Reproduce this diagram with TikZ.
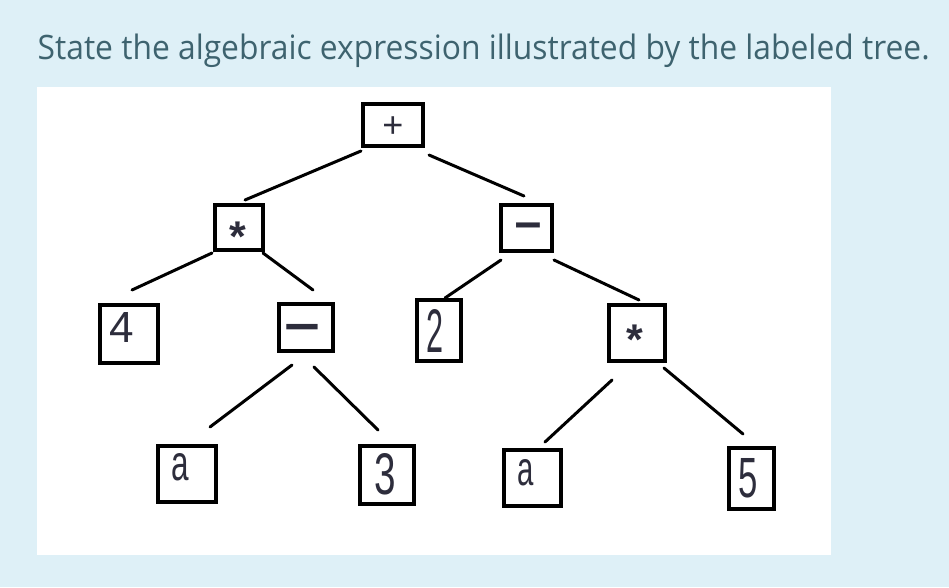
\documentclass[tikz,border=0pt]{standalone}
\usepackage{fontspec}
\usepackage{graphicx}
\usetikzlibrary{calc}
\newfontfamily\titlefont{Open Sans}
\newfontfamily\boxfont{Liberation Sans}
\newfontfamily\minusfont{DejaVu Sans}
\definecolor{bgblue}{RGB}{222,240,247}
\definecolor{titlecol}{RGB}{62,99,111}
\definecolor{glyphcol}{RGB}{45,45,60}
% glyph placed with horizontal shift #1 and raise #2 (zero-size box)
\newcommand\gl[3]{\smash{\makebox[0pt]{\hspace*{#1}\hspace*{#1}\raisebox{#2}{#3}}}}
\newcommand\dg[5]{\gl{#1pt}{\dimexpr #2pt-0.5\dimexpr #4pt\relax\relax}{\resizebox{#3pt}{#4pt}{\boxfont #5}}}
\begin{document}
\begin{tikzpicture}[x=1pt,y=-1pt,
  tbox/.style={draw=black,line width=3.6pt,inner sep=0pt,fill=white,text=glyphcol},
  edge/.style={line width=3pt,line cap=round}]
\fill[bgblue] (0,0) rectangle (949,587);
\useasboundingbox (0,0) rectangle (949,587);
\fill[white] (37,87) rectangle (831,555);
\node[anchor=base west,inner sep=0pt,text=titlecol] (title) at (37.5,59.3)
  {\resizebox{892pt}{\height}{\fontsize{33.6}{40}\titlefont State the algebraic expression illustrated by the labeled tree.}};
% nodes
\node[tbox,minimum width=60pt,minimum height=42pt] (plus) at (393,125)
  {\gl{0pt}{-12.7pt}{\fontsize{36}{36}\boxfont +}};
\node[tbox,minimum width=48pt,minimum height=45pt] (mulL) at (239,227.5)
  {\gl{-1pt}{-24.3pt}{\fontsize{43}{43}\boxfont\bfseries *}};
\node[tbox,minimum width=51pt,minimum height=46pt] (subR) at (526.5,228)
  {\gl{1.5pt}{-16.8pt}{\scalebox{1}[1.6]{\fontsize{38}{38}\minusfont −}}};
\node[tbox,minimum width=58pt,minimum height=58pt] (four) at (129,334)
  {\dg{-7}{7}{24.5}{30}{4}};
\node[tbox,minimum width=54pt,minimum height=47pt] (subM) at (306,327.5)
  {\gl{-3.5pt}{-19.7pt}{\scalebox{1}[1.3]{\fontsize{50}{50}\minusfont −}}};
\node[tbox,minimum width=44pt,minimum height=61pt] (two) at (439,330.5)
  {\dg{-4.5}{0}{17}{43}{2}};
\node[tbox,minimum width=56pt,minimum height=56pt] (mulR) at (637,333)
  {\gl{-2pt}{-21.8pt}{\fontsize{43}{43}\boxfont\bfseries *}};
\node[tbox,minimum width=58pt,minimum height=56pt] (aL) at (187,474)
  {\dg{-6.5}{7.5}{17.5}{27}{a}};
\node[tbox,minimum width=54pt,minimum height=58pt] (three) at (387,475)
  {\dg{-1.5}{1.5}{21.5}{41}{3}};
\node[tbox,minimum width=57pt,minimum height=56pt] (aR) at (532.5,478)
  {\dg{-6.5}{6}{16.3}{26}{a}};
\node[tbox,minimum width=45pt,minimum height=61pt] (five) at (751.5,478.5)
  {\dg{-3}{1}{19.3}{39}{5}};
% connectors
\draw[edge] ($(plus)+(-32,26)$) -- ($(mulL)+(6,-27.5)$);
\draw[edge] ($(plus)+(36,30)$) -- ($(subR)+(-2.5,-32)$);
\draw[edge] ($(mulL)+(-27,25.5)$) -- ($(four)+(3,-44)$);
\draw[edge] ($(mulL)+(24,25.5)$) -- ($(subM)+(7,-37.5)$);
\draw[edge] ($(subR)+(-25.5,32)$) -- ($(two)+(6,-32.5)$);
\draw[edge] ($(subR)+(27.5,32)$) -- ($(mulR)+(2,-33)$);
\draw[edge] ($(subM)+(-14,37.5)$) -- ($(aL)+(23,-47)$);
\draw[edge] ($(subM)+(8,39.5)$) -- ($(three)+(-9,-45)$);
\draw[edge] ($(mulR)+(-25,47)$) -- ($(aR)+(12.5,-36)$);
\draw[edge] ($(mulR)+(27,35)$) -- ($(five)+(-8.5,-44.5)$);
\end{tikzpicture}
\end{document}
